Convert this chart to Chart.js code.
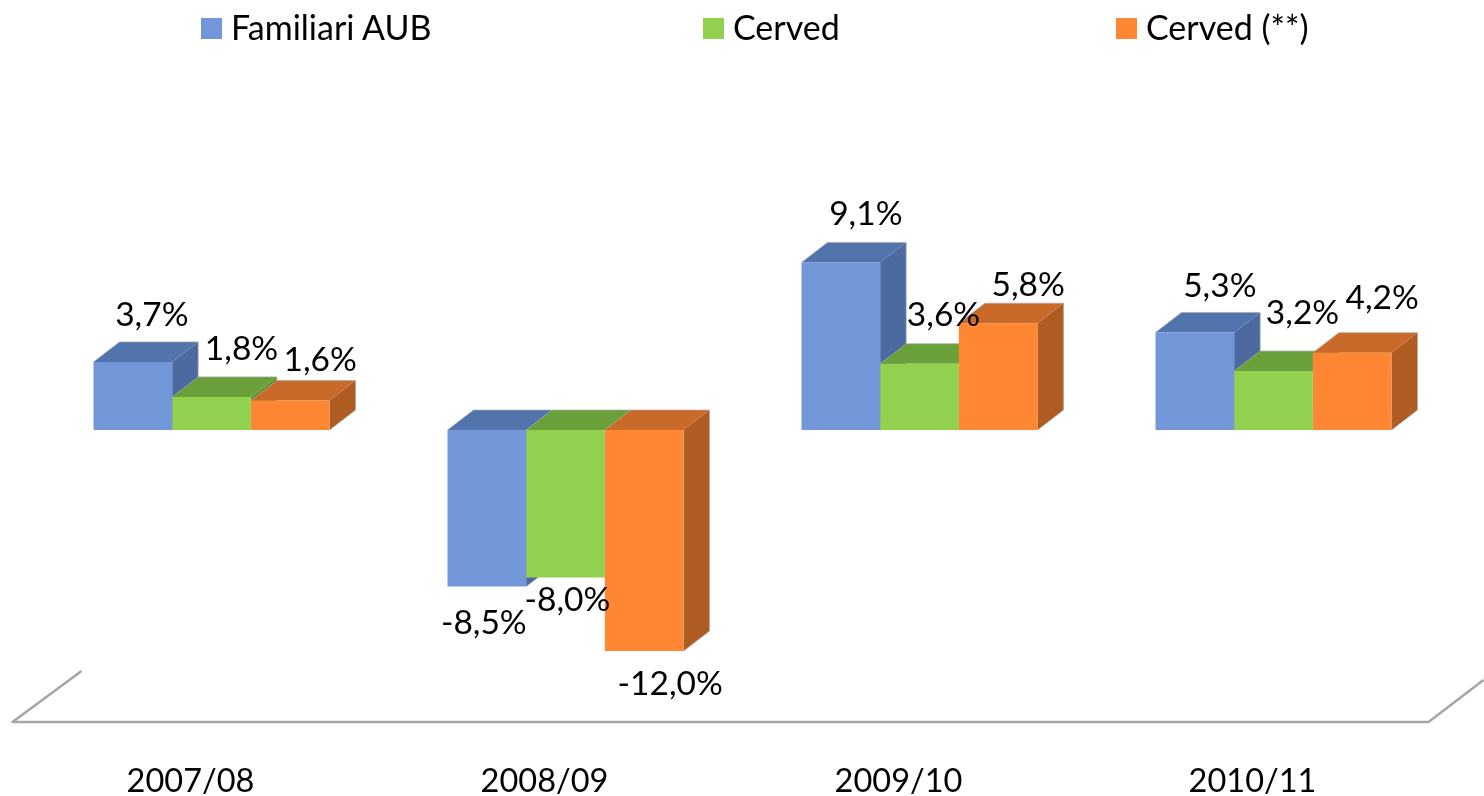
<!DOCTYPE html>
<html>
<head>
<meta charset="utf-8">
<style>
    html, body { margin: 0; background: #fff; }
    #wrap { position: relative; width: 1484px; height: 796px; overflow: hidden; }
    .legendItem { position: absolute; top: 8px; height: 40px; font: 34px Lato, sans-serif; color: #000; white-space: nowrap; }
    .legendItem i { position: absolute; left: 0; top: 10px; width: 21px; height: 21px; }
    .legendItem span { position: absolute; left: 30px; top: -1px; line-height: 40px; }
</style>
</head>
<body>
<div id="wrap">
    <canvas id="chart" width="1484" height="796"></canvas>
</div>
<script src="https://cdn.jsdelivr.net/npm/chart.js@4"></script>
<script>
const years = ["2007/08", "2008/09", "2009/10", "2010/11"];
const seriesNames = ["Familiari AUB", "Cerved", "Cerved (**)"];
const familiariAub = [3.7, -8.5, 9.1, 5.3];
const cerved = [1.8, -8.0, 3.6, 3.2];
const cervedStar = [1.6, -12.0, 5.8, 4.2];

const frontColors = ["#7297d9", "#92d14f", "#ff8733"];
const topColors = ["#5274ad", "#69a03a", "#c96a2a"];
const sideColors = ["#4c6a9f", "#5f9235", "#ae5c22"];

const depthX = 26;
const depthY = 20;
const font = "Lato, sans-serif";

// labels were moved by hand in the original, so each one has its own nudge from the bar end
const labelOffsets = [
    [[19, -47], [-3, 37], [25, -48], [25, -46]],
    [[30, -48], [2, 23], [24, -49], [29, -58]],
    [[30, -40], [26, 33], [30, -38], [30, -54]]
];

const fakeDepthPlugin = {
    id: 'fakeDepth',
    beforeDatasetsDraw(chart) {
        const ctx = chart.ctx;
        chart.data.datasets.forEach((dataset, d) => {
            chart.getDatasetMeta(d).data.forEach((bar) => {
                const left = bar.x - bar.width / 2;
                const right = bar.x + bar.width / 2;
                const top = Math.min(bar.y, bar.base);
                const bottom = Math.max(bar.y, bar.base);

                ctx.fillStyle = sideColors[d];
                ctx.beginPath();
                ctx.moveTo(right, top);
                ctx.lineTo(right + depthX, top - depthY);
                ctx.lineTo(right + depthX, bottom - depthY);
                ctx.lineTo(right, bottom);
                ctx.closePath();
                ctx.fill();

                ctx.fillStyle = topColors[d];
                ctx.beginPath();
                ctx.moveTo(left, top);
                ctx.lineTo(left + depthX, top - depthY);
                ctx.lineTo(right + depthX, top - depthY);
                ctx.lineTo(right, top);
                ctx.closePath();
                ctx.fill();

                // thin grey edge around the back of the box
                ctx.strokeStyle = "rgba(170,170,170,0.7)";
                ctx.lineWidth = 1;
                ctx.beginPath();
                ctx.moveTo(left, top);
                ctx.lineTo(left + depthX, top - depthY);
                ctx.lineTo(right + depthX, top - depthY);
                ctx.lineTo(right + depthX, bottom - depthY);
                ctx.lineTo(right, bottom);
                ctx.stroke();
            });
        });
    },
    afterDatasetsDraw(chart) {
        const ctx = chart.ctx;
        ctx.save();
        ctx.fillStyle = "#000";
        ctx.font = "33.5px " + font;
        ctx.textAlign = "center";
        ctx.textBaseline = "middle";
        chart.data.datasets.forEach((dataset, d) => {
            chart.getDatasetMeta(d).data.forEach((bar, i) => {
                const text = dataset.data[i].toFixed(1).replace(".", ",") + "%";
                ctx.fillText(text, bar.x + labelOffsets[d][i][0], bar.y + labelOffsets[d][i][1]);
            });
        });
        ctx.restore();
    }
};

// the floor of the 3D plot, only the front edge and the two slanted sides show
const floorPlugin = {
    id: 'floor',
    beforeDatasetsDraw(chart) {
        const { left, right, bottom } = chart.chartArea;
        const ctx = chart.ctx;
        ctx.save();
        ctx.strokeStyle = "#a6a6a6";
        ctx.lineWidth = 2.5;
        ctx.lineJoin = "round";
        ctx.beginPath();
        ctx.moveTo(left + 47, bottom - 51);
        ctx.lineTo(left - 22, bottom);
        ctx.lineTo(right - 22, bottom);
        ctx.lineTo(right + 33, bottom - 42);
        ctx.stroke();
        ctx.restore();
    }
};

new Chart(document.getElementById('chart').getContext('2d'), {
    type: 'bar',
    data: {
        labels: years,
        datasets: [familiariAub, cerved, cervedStar].map((values, d) => ({
            label: seriesNames[d],
            data: values,
            backgroundColor: frontColors[d],
            borderWidth: 0,
            barPercentage: 1,
            categoryPercentage: 2 / 3
        }))
    },
    plugins: [floorPlugin, fakeDepthPlugin],
    options: {
        responsive: false,
        animation: false,
        layout: { padding: { left: 34.5, right: 33.5, top: 209, bottom: 0 } },
        plugins: {
            legend: { display: false },
            tooltip: { enabled: false }
        },
        scales: {
            x: {
                grid: { display: false },
                border: { display: false },
                ticks: {
                    color: "#000",
                    font: { family: font, size: 32.5 },
                    padding: 32,
                    labelOffset: -21,
                    maxRotation: 0,
                    autoSkip: false
                },
                afterFit(scale) {
                    scale.height = 74;
                }
            },
            y: {
                display: false,
                min: -15.85,
                max: 12
            }
        }
    }
});

// legend is html, the built in one can't space its items this wide without pushing itself down
const legendLefts = [201, 703, 1116];
seriesNames.forEach((name, d) => {
    const item = document.createElement("div");
    item.className = "legendItem";
    item.style.left = legendLefts[d] + "px";
    const swatch = document.createElement("i");
    swatch.style.background = frontColors[d];
    const text = document.createElement("span");
    text.innerText = name;
    item.appendChild(swatch);
    item.appendChild(text);
    document.getElementById("wrap").appendChild(item);
});
</script>
</body>
</html>
